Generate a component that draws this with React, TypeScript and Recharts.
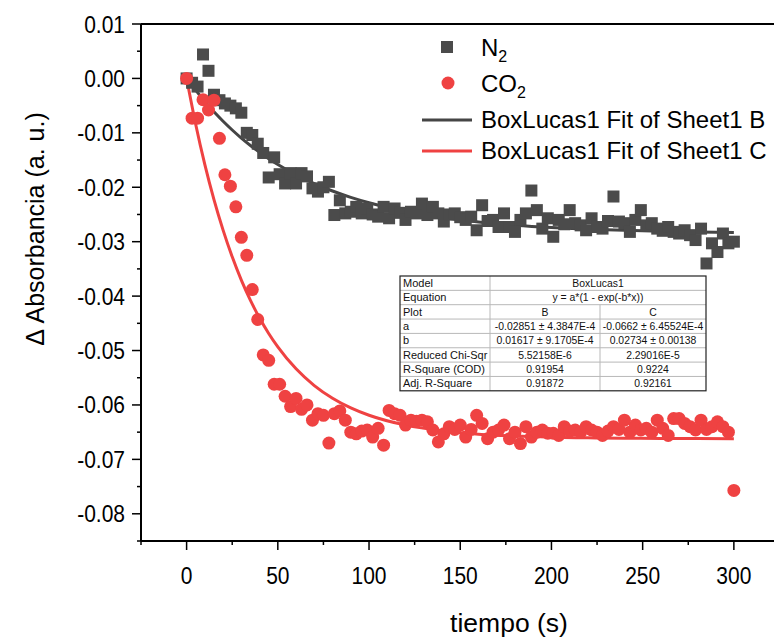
import { ComposedChart, Line, Scatter, XAxis, YAxis, ReferenceLine, Legend } from "recharts";

// tiempo (s) of each measurement
const TIME = [
  0, 3, 6, 9, 12, 15, 18, 21, 24, 27, 30, 33, 36, 39, 42, 45, 48, 51, 54, 57, 60,
  63, 66, 69, 72, 75, 78, 81, 84, 87, 90, 93, 96, 99, 102, 105, 108, 111, 114, 117, 120,
  123, 126, 129, 132, 135, 138, 141, 144, 147, 150, 153, 156, 159, 162, 165, 168, 171, 174, 177, 180,
  183, 186, 189, 192, 195, 198, 201, 204, 207, 210, 213, 216, 219, 222, 225, 228, 231, 234, 237, 240,
  243, 246, 249, 252, 255, 258, 261, 264, 267, 270, 273, 276, 279, 282, 285, 288, 291, 294, 297, 300,
];

const N2 = [
  0.0, -0.0008, -0.0015, 0.0044, 0.0014, -0.003, -0.004, -0.0046, -0.005, -0.0055, -0.0063,
  -0.01, -0.0104, -0.012, -0.0137, -0.0182, -0.0145, -0.0176, -0.0193, -0.0174, -0.0193,
  -0.0174, -0.018, -0.0202, -0.0208, -0.02, -0.019, -0.0251, -0.0224, -0.0248, -0.0245,
  -0.0236, -0.0248, -0.0239, -0.025, -0.0254, -0.0236, -0.0257, -0.0239, -0.0247, -0.026,
  -0.0245, -0.0248, -0.023, -0.0251, -0.0236, -0.0248, -0.0263, -0.025, -0.0248, -0.0255,
  -0.026, -0.0254, -0.0279, -0.0233, -0.0262, -0.026, -0.0273, -0.0248, -0.0273, -0.0282,
  -0.026, -0.0248, -0.0206, -0.0242, -0.0276, -0.0257, -0.0291, -0.026, -0.0268, -0.0242,
  -0.0266, -0.027, -0.0279, -0.0257, -0.0273, -0.0276, -0.0262, -0.0217, -0.0263, -0.0266,
  -0.0282, -0.026, -0.0242, -0.027, -0.0266, -0.0276, -0.028, -0.0273, -0.0282, -0.0285,
  -0.0279, -0.0288, -0.0297, -0.0276, -0.034, -0.0303, -0.0319, -0.0285, -0.0303, -0.03,
];

const CO2 = [
  0.0, -0.0073, -0.0073, -0.0039, -0.0058, -0.004, -0.011, -0.0177, -0.0198, -0.0236, -0.0292,
  -0.0325, -0.0388, -0.0443, -0.0508, -0.0518, -0.0562, -0.0562, -0.0584, -0.0603, -0.0588,
  -0.0608, -0.06, -0.0628, -0.0616, -0.0619, -0.067, -0.0616, -0.0611, -0.0628, -0.065,
  -0.0653, -0.0648, -0.0646, -0.0659, -0.0643, -0.0674, -0.061, -0.0616, -0.0619, -0.0637,
  -0.0628, -0.063, -0.0628, -0.0631, -0.0646, -0.0668, -0.0653, -0.064, -0.0645, -0.0637,
  -0.0659, -0.0645, -0.0619, -0.0634, -0.0662, -0.065, -0.0646, -0.0637, -0.0662, -0.065,
  -0.0671, -0.064, -0.0659, -0.065, -0.0646, -0.0652, -0.0652, -0.0656, -0.064, -0.0648,
  -0.0646, -0.065, -0.064, -0.0646, -0.065, -0.0656, -0.0648, -0.064, -0.0645, -0.0628,
  -0.065, -0.0637, -0.0646, -0.0643, -0.065, -0.0628, -0.0643, -0.0656, -0.0625, -0.0625,
  -0.0634, -0.064, -0.0646, -0.0628, -0.0645, -0.064, -0.0631, -0.064, -0.065, -0.0757,
];

// fitted curves
const FIT_TIME = [0, 5, 10, 15, 20, 25, 30, 35, 40, 45, 50, 60, 70, 80, 90, 100, 120, 140, 160, 180, 200, 220, 240, 260, 280, 300];
const FIT_B = [
  0, -0.00215, -0.00425, -0.00614, -0.00788, -0.00948, -0.01096, -0.01232, -0.01358, -0.01474,
  -0.01581, -0.0177, -0.01932, -0.02069, -0.02186, -0.02285, -0.02442, -0.02555, -0.02637,
  -0.02696, -0.02739, -0.0277, -0.02792, -0.02809, -0.0282, -0.02829,
];
const FIT_C = [
  0, -0.00846, -0.01584, -0.02227, -0.02788, -0.03278, -0.03705, -0.04077, -0.04402, -0.04686,
  -0.04933, -0.05336, -0.05644, -0.05877, -0.06055, -0.0619, -0.06371, -0.06476, -0.06537,
  -0.06572, -0.06592, -0.06604, -0.06611, -0.06615, -0.06617, -0.06619,
];

const X_TICKS = [-25, 0, 25, 50, 75, 100, 125, 150, 175, 200, 225, 250, 275, 300];
const Y_TICKS = [
  0.01, 0.005, 0, -0.005, -0.01, -0.015, -0.02, -0.025, -0.03, -0.035, -0.04, -0.045,
  -0.05, -0.055, -0.06, -0.065, -0.07, -0.075, -0.08, -0.085,
];

const TABLE_LABELS = ["Model", "Equation", "Plot", "a", "b", "Reduced Chi-Sqr", "R-Square (COD)", "Adj. R-Square"];
const TABLE_B = ["B", "-0.02851 \u00b1 4.3847E-4", "0.01617 \u00b1 9.1705E-4", "5.52158E-6", "0.91954", "0.91872"];
const TABLE_C = ["C", "-0.0662 \u00b1 6.45524E-4", "0.02734 \u00b1 0.00138", "2.29016E-5", "0.9224", "0.92161"];
const TABLE_SPAN = ["BoxLucas1", "y = a*(1 - exp(-b*x))"];

const GREY = "#4b4b4b";
const RED = "#ef4242";
const FONT = "'Liberation Sans', Arial, sans-serif";

const n2Data = TIME.map((t, i) => ({ t, v: N2[i] }));
const co2Data = TIME.map((t, i) => ({ t, v: CO2[i] }));
const fitBData = FIT_TIME.map((t, i) => ({ t, v: FIT_B[i] }));
const fitCData = FIT_TIME.map((t, i) => ({ t, v: FIT_C[i] }));

const Square = (p: any) => (
  <rect x={p.cx - 6} y={p.cy - 6} width={12} height={12} fill={GREY} />
);
const Dot = (p: any) => <circle cx={p.cx} cy={p.cy} r={6.5} fill={RED} />;

const XTick = (p: any) => {
  const v = p.payload.value;
  const major = v % 50 === 0;
  return (
    <g>
      <line x1={p.x} x2={p.x} y1={p.y} y2={p.y + (major ? 9 : 4)} stroke="#000" strokeWidth={1.5} />
      {major ? (
        <text
          transform={`translate(${p.x},${p.y + 43}) scale(1,1.18)`}
          textAnchor="middle"
          fontSize={21}
          fontFamily={FONT}
          fill="#000"
        >
          {v}
        </text>
      ) : null}
    </g>
  );
};

const YTick = (p: any) => {
  const v = p.payload.value;
  const major = Math.round(v * 1000) % 10 === 0;
  return (
    <g>
      <line x1={p.x - (major ? 9 : 4)} x2={p.x} y1={p.y} y2={p.y} stroke="#000" strokeWidth={1.5} />
      {major ? (
        <text
          transform={`translate(${p.x - 16},${p.y + 8.5}) scale(1,1.18)`}
          textAnchor="end"
          fontSize={21}
          fontFamily={FONT}
          fill="#000"
        >
          {Number(v).toFixed(2)}
        </text>
      ) : null}
    </g>
  );
};

const LegendBox = () => (
  <svg width={360} height={140} style={{ display: "block" }}>
    <rect x={26} y={14} width={12} height={12} fill={GREY} />
    <text x={66} y={29} fontSize={24} fontFamily={FONT} fill="#000">
      N<tspan fontSize={16} dy={6}>2</tspan>
    </text>
    <circle cx={33} cy={56} r={6.5} fill={RED} />
    <text x={66} y={65} fontSize={24} fontFamily={FONT} fill="#000">
      CO<tspan fontSize={16} dy={6}>2</tspan>
    </text>
    <line x1={7} x2={57} y1={93} y2={93} stroke="#454545" strokeWidth={3} />
    <text x={66} y={101} fontSize={24} fontFamily={FONT} fill="#000">BoxLucas1 Fit of Sheet1 B</text>
    <line x1={7} x2={57} y1={124} y2={124} stroke={RED} strokeWidth={3} />
    <text x={66} y={132} fontSize={24} fontFamily={FONT} fill="#000">BoxLucas1 Fit of Sheet1 C</text>
  </svg>
);

const Overlay = () => {
  const left = 400;
  const c1 = 490;
  const c2 = 600;
  const right = 706;
  const top = 276;
  const rh = 14.35;
  const bottom = top + rh * TABLE_LABELS.length;
  const ls = { fontSize: 11, fontFamily: FONT, fill: "#111" };
  const ts = { fontSize: 10.4, fontFamily: FONT, fill: "#111" };
  return (
    <svg width={774} height={640} style={{ position: "absolute", left: 0, top: 0, pointerEvents: "none" }}>
      <text transform="translate(44,229) rotate(-90)" textAnchor="middle" fontSize={25} fontFamily={FONT} fill="#000">
        {"\u0394 Absorbancia (a. u.)"}
      </text>
      <text x={509} y={632} textAnchor="middle" fontSize={26.5} fontFamily={FONT} fill="#000">
        tiempo (s)
      </text>
      <rect x={left} y={top} width={right - left} height={bottom - top} fill="#fff" />
      {TABLE_LABELS.map((_, i) =>
        i > 0 ? (
          <line key={i} x1={left} x2={right} y1={top + rh * i} y2={top + rh * i} stroke="#b8b8b8" strokeWidth={1} />
        ) : null,
      )}
      <line x1={c1} x2={c1} y1={top} y2={bottom} stroke="#b8b8b8" strokeWidth={1} />
      <line x1={c2} x2={c2} y1={top + rh * 2} y2={bottom} stroke="#b8b8b8" strokeWidth={1} />
      <rect x={left} y={top} width={right - left} height={bottom - top} fill="none" stroke="#222" strokeWidth={1.2} />
      {TABLE_LABELS.map((l, i) => (
        <text key={l} x={left + 3} y={top + rh * i + rh / 2} dy="0.35em" {...ls}>
          {l}
        </text>
      ))}
      {TABLE_SPAN.map((s, i) => (
        <text key={s} x={(c1 + right) / 2} y={top + rh * i + rh / 2} dy="0.35em" textAnchor="middle" {...ts}>
          {s}
        </text>
      ))}
      {TABLE_B.map((s, i) => (
        <text key={"b" + i} x={(c1 + c2) / 2} y={top + rh * (i + 2) + rh / 2} dy="0.35em" textAnchor="middle" {...ts}>
          {s}
        </text>
      ))}
      {TABLE_C.map((s, i) => (
        <text key={"c" + i} x={(c2 + right) / 2} y={top + rh * (i + 2) + rh / 2} dy="0.35em" textAnchor="middle" {...ts}>
          {s}
        </text>
      ))}
    </svg>
  );
};

export default function App() {
  return (
    <div style={{ position: "absolute", left: 0, top: 0, width: 774, height: 640, background: "#fff" }}>
      <ComposedChart width={774} height={640} margin={{ top: 24, right: 0, bottom: 0, left: 0 }}>
        <XAxis
          type="number"
          dataKey="t"
          domain={[-25, 322]}
          ticks={X_TICKS}
          interval={0}
          allowDataOverflow
          height={99}
          tickSize={0}
          tickMargin={0}
          tickLine={false}
          tick={<XTick />}
          axisLine={{ stroke: "#000", strokeWidth: 2 }}
        />
        <YAxis
          type="number"
          dataKey="v"
          domain={[-0.085, 0.01]}
          ticks={Y_TICKS}
          interval={0}
          allowDataOverflow
          width={141}
          tickSize={0}
          tickMargin={0}
          tickLine={false}
          tick={<YTick />}
          axisLine={{ stroke: "#000", strokeWidth: 2 }}
        />
        <ReferenceLine y={0.01} stroke="#000" strokeWidth={2} ifOverflow="visible" />
        <Scatter name="N2" data={n2Data} dataKey="v" shape={Square} isAnimationActive={false} />
        <Scatter name="CO2" data={co2Data} dataKey="v" shape={Dot} isAnimationActive={false} />
        <Line data={fitBData} dataKey="v" type="monotone" stroke="#454545" strokeWidth={3} dot={false} isAnimationActive={false} />
        <Line data={fitCData} dataKey="v" type="monotone" stroke={RED} strokeWidth={3} dot={false} isAnimationActive={false} />
        <Legend
          layout="horizontal"
          align="center"
          verticalAlign="middle"
          content={<LegendBox />}
          wrapperStyle={{ left: 415, top: 27, width: 360, height: 140 }}
        />
      </ComposedChart>
      <Overlay />
    </div>
  );
}
